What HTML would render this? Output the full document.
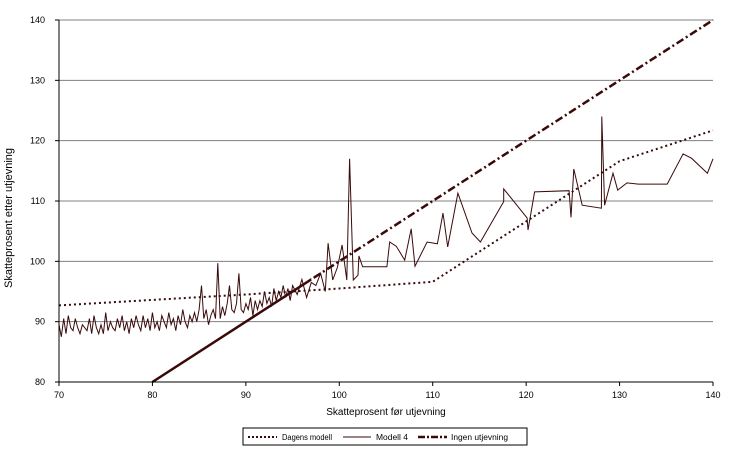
<!DOCTYPE html>
<html><head><meta charset="utf-8"><style>
body{margin:0;background:#fff;}
svg{display:block;font-family:"Liberation Sans",sans-serif;}
</style></head><body>
<svg id="chart" width="734" height="452" xmlns="http://www.w3.org/2000/svg">
<defs><clipPath id="solidClip"><rect id="solidRect" x="0" y="0" width="0" height="452"/></clipPath>
<clipPath id="dashClip"><rect id="dashRect" x="0" y="0" width="734" height="452"/></clipPath></defs>
<g id="grid"></g>
<g id="series"></g>
<g id="axes"></g>
<text transform="translate(12,218) rotate(-90)" text-anchor="middle" font-size="11">Skatteprosent etter utjevning</text>
<text x="386" y="415" text-anchor="middle" font-size="10">Skatteprosent før utjevning</text>
<g>
<rect x="243" y="428" width="284" height="17" fill="#fff" stroke="#000" stroke-width="1"/>
<g>
<line x1="248" y1="437" x2="277" y2="437" stroke="#3a0a0a" stroke-width="2" stroke-dasharray="2,2"/>
<text x="282" y="440" font-size="8" textLength="50" lengthAdjust="spacingAndGlyphs">Dagens modell</text></g>
<g>
<line x1="343" y1="437" x2="371" y2="437" stroke="#3a0a0a" stroke-width="1"/>
<text x="376" y="440" font-size="8" textLength="32" lengthAdjust="spacingAndGlyphs">Modell 4</text></g>
<g>
<line x1="418" y1="437" x2="447" y2="437" stroke="#3a0a0a" stroke-width="2.5" stroke-dasharray="7,2,2,2"/>
<text x="451" y="440" font-size="8" textLength="57" lengthAdjust="spacingAndGlyphs">Ingen utjevning</text></g>
</g>
</svg>
<script>
const xTicks=[70,80,90,100,110,120,130,140];
const yTicks=[80,90,100,110,120,130,140];
const dagensX=[70,80,90,100,110,120,130,140];
const dagensY=[92.7,93.6,94.5,95.5,96.6,106.6,116.6,121.7];
const ingenX=[80,140];
const ingenY=[80,140];
const modellX=[70,70.25,70.5,70.75,71,71.25,71.5,71.75,72,72.25,72.5,72.75,73,
73.25,73.5,73.75,74,74.25,74.5,74.75,75,75.25,75.5,75.75,
76,76.25,76.5,76.75,77,77.25,77.5,77.75,78,78.25,78.5,
78.75,79,79.25,79.5,79.75,80,80.25,80.5,80.75,81,81.25,
81.5,81.75,82,82.25,82.5,82.75,83,83.25,83.5,83.75,84,
84.25,84.5,84.75,85,85.25,85.5,85.75,86,86.25,86.5,86.75,
87,87.25,87.5,87.75,88,88.25,88.5,88.75,89,89.25,89.5,
89.75,90,90.25,90.5,90.75,91,91.25,91.5,91.75,92,92.25,
92.5,92.75,93,93.25,93.5,93.75,94,94.25,94.5,94.75,95,
95.5,96,96.5,97,97.5,98,98.5,98.8,99.3,99.8,100.3,100.8,101.1,101.5,102,102.1,102.5,
105.1,105.4,106.1,107,107.7,108.1,109.4,110.5,111.1,111.6,112.7,114.2,115.1,117.6,117.6,
120.1,120.2,120.9,124.6,124.8,125.1,126,128.05,128.1,128.4,129.3,129.8,130.8,132,135.1,136.8,137.7,139.4,140];
const modellY=[89.5,87.5,90.5,88,91,89,88.5,90.5,89,88,89.5,89,88.5,
90.5,88,91,89,88,89.5,88,91.5,88.5,90,89,
88.5,90.5,89,91,88.5,90,88,90.5,89,91,89.5,
88.5,91,89,90.5,88.5,91.5,89,90,88.5,91,90,
89,91.5,89.5,90.5,88.5,91,89.5,92,90,89,91,
90,91.5,90,92,96,90.5,92,89.5,91,92,90.5,
99.7,90.5,92.5,91,93,96,92,91.5,93,98,92,
91.5,93,92,94,91,93.5,92,93.5,92.5,95,93,
94,92.5,95.5,93.5,95,94,96,94,95.5,93.5,96,
94.5,97,94,96.5,96,98,95,103,96.9,99,102.7,96.9,117,96.9,97.7,100.9,99.1,
99.1,103.2,102.5,100.2,105.4,99.2,103.2,102.9,108,102.4,111.3,104.7,103.2,109.9,112,
107.2,105.2,111.5,111.7,107.3,115.3,109.3,108.8,124,109.3,114.6,111.8,113,112.8,112.8,117.8,117.1,114.6,117];
const X0=59,X1=713,Y0=382,Y1=20;
const sx=v=>X0+(v-70)/(140-70)*(X1-X0);
const sy=v=>Y0-(v-80)/(140-80)*(Y0-Y1);
const NS="http://www.w3.org/2000/svg";
const grid=document.getElementById('grid'),axes=document.getElementById('axes'),ser=document.getElementById('series');
function mk(t,a,p){const e=document.createElementNS(NS,t);for(const k in a)e.setAttribute(k,a[k]);p.appendChild(e);return e;}
yTicks.forEach(v=>{
 if(v>80){const g=mk('line',{x1:X0,x2:X1,y1:sy(v),y2:sy(v),stroke:'#808080','stroke-width':1},grid);
 
 }
 const t=mk('text',{x:45,y:sy(v)+3,'text-anchor':'end','font-size':9},axes);t.textContent=v;
 
 
 mk('line',{x1:X0-4,x2:X0,y1:sy(v),y2:sy(v),stroke:'#000'},axes);
});
xTicks.forEach(v=>{
 const t=mk('text',{x:sx(v),y:398,'text-anchor':'middle','font-size':9},axes);t.textContent=v;
 
 
 mk('line',{x1:sx(v),x2:sx(v),y1:Y0,y2:Y0+4,stroke:'#000'},axes);
});
const ay=mk('line',{x1:X0,x2:X0,y1:Y1,y2:Y0,stroke:'#000'},axes);


const ax=mk('line',{x1:X0,x2:X1,y1:Y0,y2:Y0,stroke:'#000'},axes);


function pts(xs,ys){return xs.map((x,i)=>sx(x).toFixed(1)+','+sy(ys[i]).toFixed(1)).join(' ');}
const m=mk('polyline',{points:pts(modellX,modellY),fill:'none',stroke:'#3a0a0a','stroke-width':1},ser);


const d=mk('polyline',{points:pts(dagensX,dagensY),fill:'none',stroke:'#3a0a0a','stroke-width':2,'stroke-dasharray':'2,3'},ser);


const cut=sx(97);
document.getElementById('solidRect').setAttribute('width',cut);
document.getElementById('dashRect').setAttribute('x',cut);
const ig=mk('polyline',{points:pts(ingenX,ingenY),fill:'none',stroke:'#3a0a0a','stroke-width':2.5,'stroke-dasharray':'8,3,2,3','clip-path':'url(#dashClip)'},ser);


const ig2=mk('polyline',{points:pts(ingenX,ingenY),fill:'none',stroke:'#3a0a0a','stroke-width':2.5,'clip-path':'url(#solidClip)'},ser);


</script>
</body></html>
